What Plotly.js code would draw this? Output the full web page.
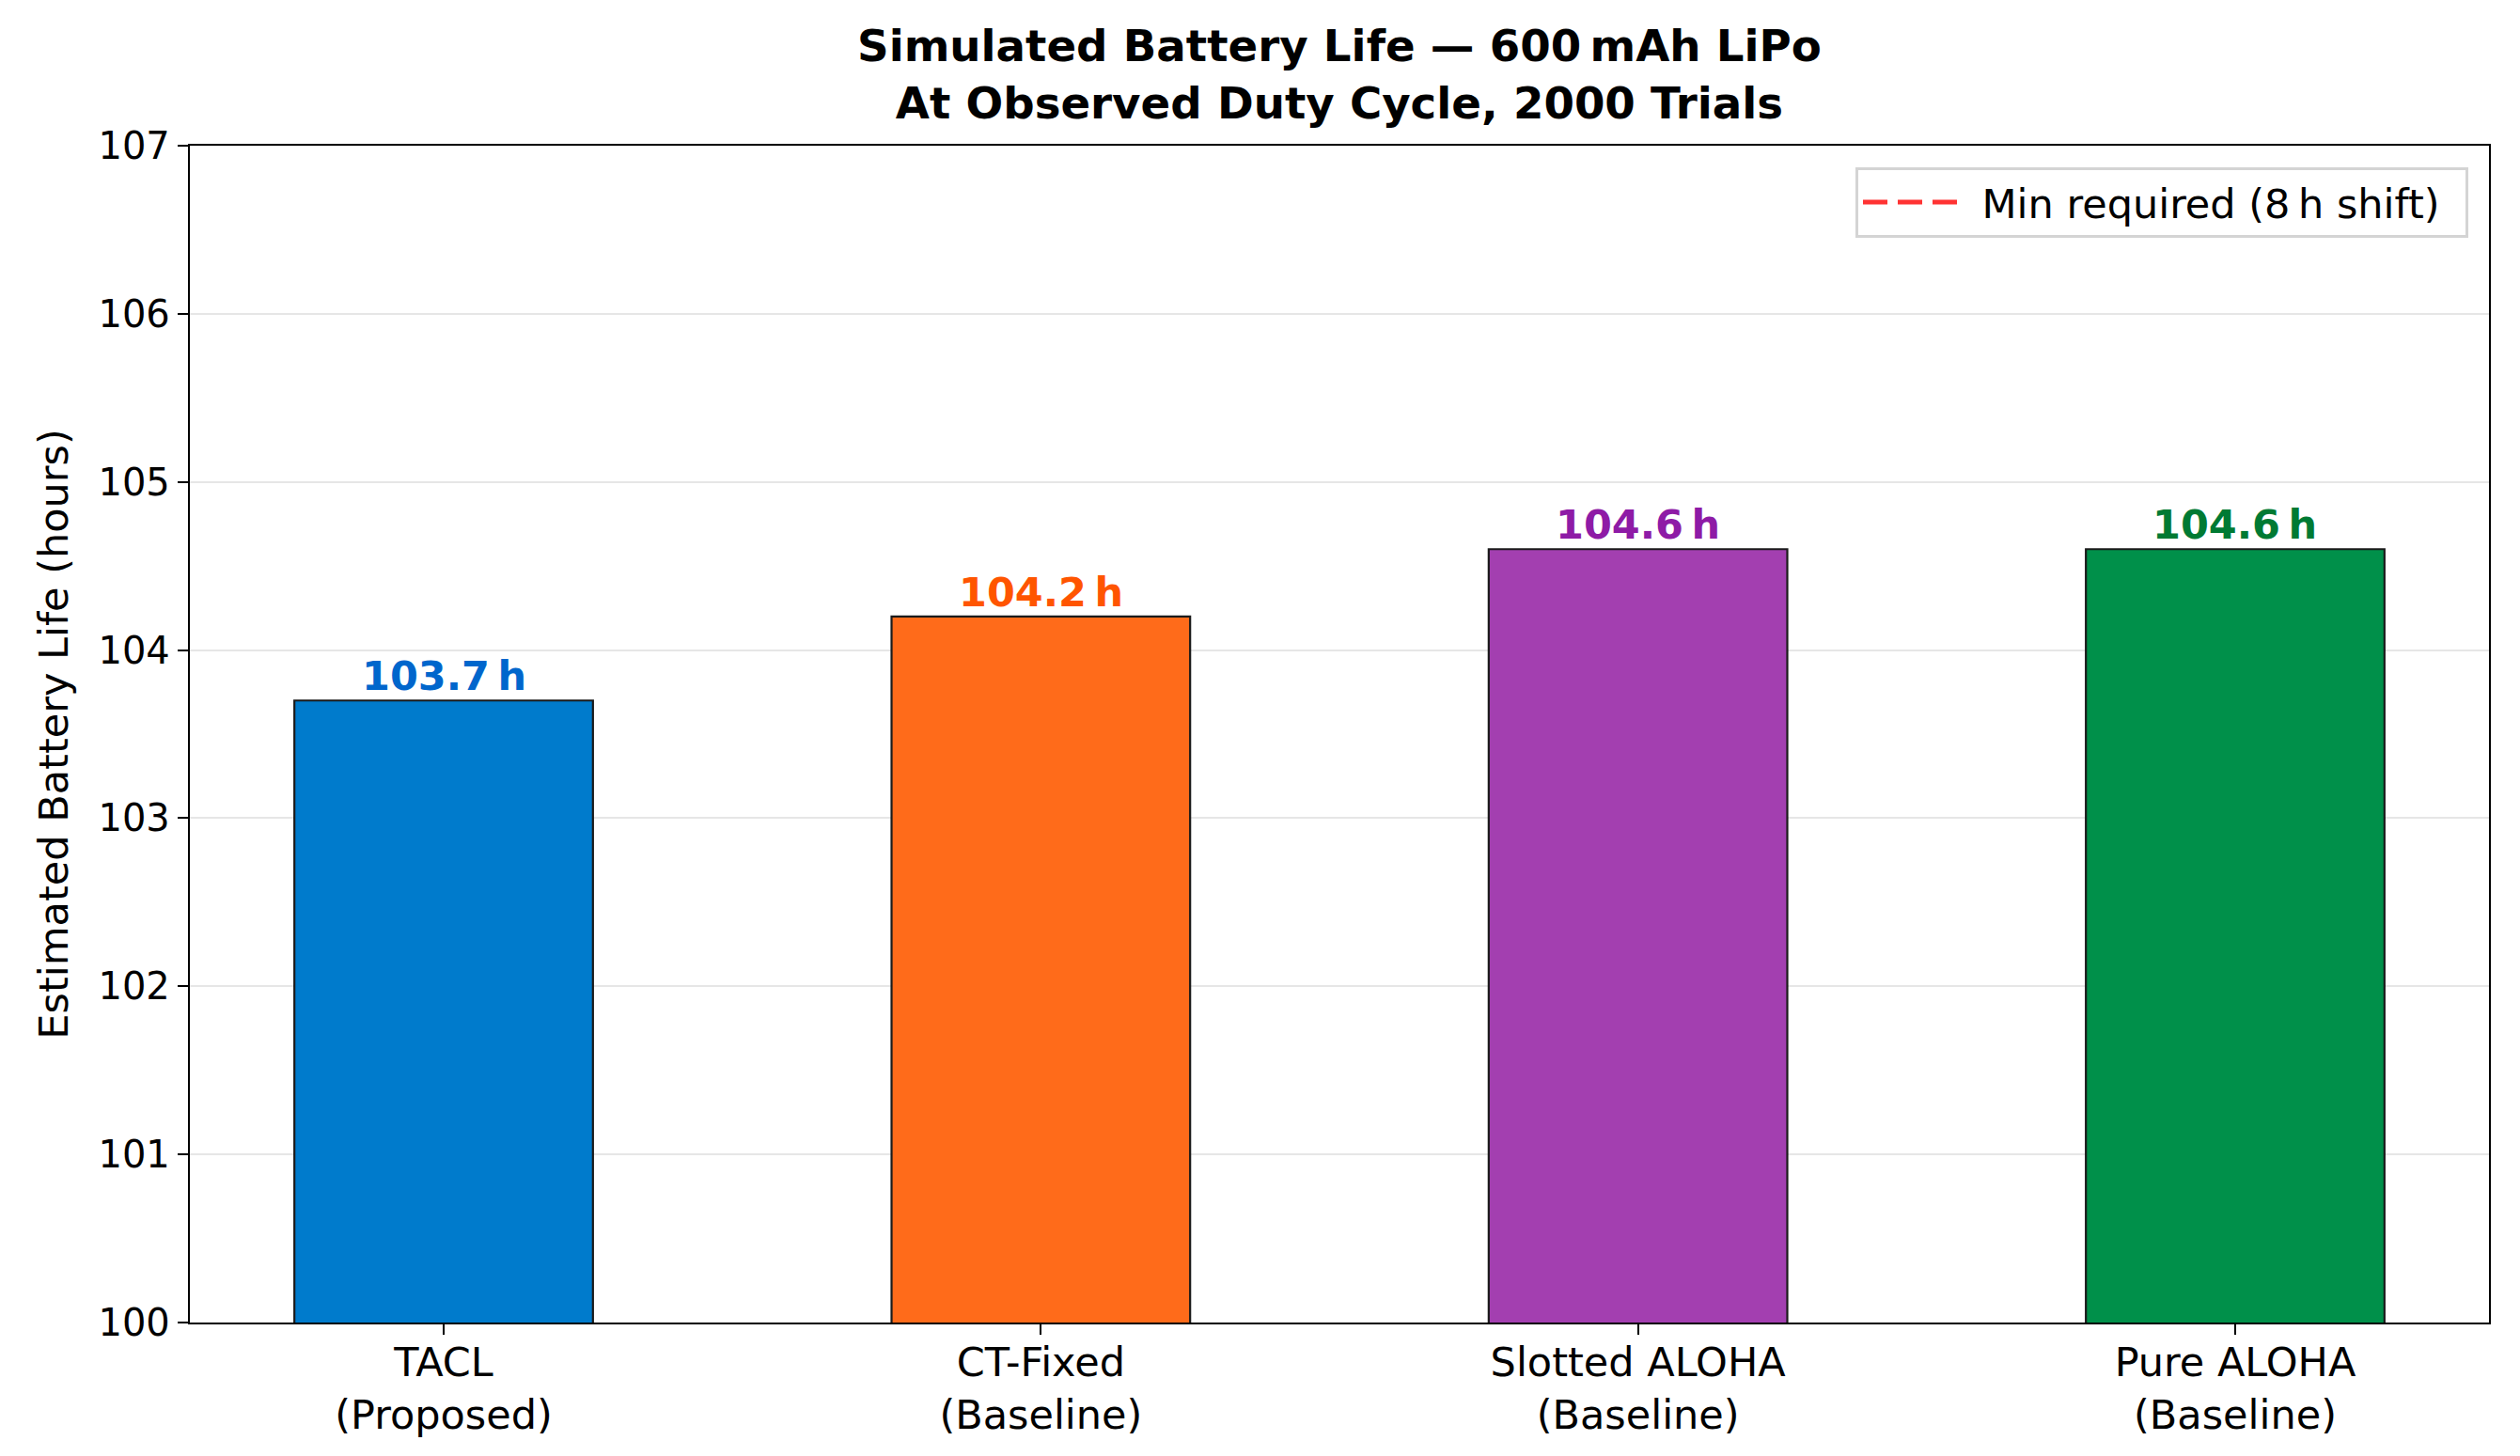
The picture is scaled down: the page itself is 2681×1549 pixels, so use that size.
<!DOCTYPE html>
<html>
<head>
<meta charset="utf-8">
<script src="https://cdn.plot.ly/plotly-3.0.1.min.js"></script>
<style>
  html, body { margin: 0; padding: 0; background: #fff; }
  #chart { width: 2681px; height: 1549px; }
</style>
</head>
<body>
<div id="chart"></div>
<script>
// -----------------------
// Datos
// -----------------------
const PROTOCOLS = ["TACL", "CT-Fixed", "Slotted ALOHA", "Pure ALOHA"];
const ROLES = ["(Proposed)", "(Baseline)", "(Baseline)", "(Baseline)"];
const BATTERY_HOURS = [103.7, 104.2, 104.6, 104.6];
const MIN_REQUIRED = 8;  // h, turno de 8 h (queda fuera del rango visible)
const BAR_COLORS = ["#007BCC", "#FF6B1A", "#A33FB0", "#00904A"];
const LABEL_COLORS = ["#0066CC", "#FF5500", "#8E1BA6", "#007A33"];
const Y_TICKS = [100, 101, 102, 103, 104, 105, 106, 107];

const FONT = "DejaVu Sans, Liberation Sans, sans-serif";
const TS = "\u2009";  // espacio fino

// -----------------------
// Trazas
// -----------------------
const bars = {
  type: "bar",
  x: PROTOCOLS,
  y: BATTERY_HOURS,
  marker: {
    color: BAR_COLORS,
    line: { color: "#1a1a1a", width: 2.2 }
  },
  showlegend: false,
  hoverinfo: "x+y"
};

const minLine = {
  type: "scatter",
  mode: "lines",
  x: PROTOCOLS,
  y: PROTOCOLS.map(() => MIN_REQUIRED),
  name: "\u2002Min required (8" + TS + "h shift)\u2002",
  line: { color: "#FF3333", width: 5, dash: "26px,11px" }
};

const labels = PROTOCOLS.map((p, i) => ({
  x: p,
  y: BATTERY_HOURS[i],
  xref: "x",
  yref: "y",
  yanchor: "bottom",
  yshift: -1,
  showarrow: false,
  text: "<b>" + BATTERY_HOURS[i].toFixed(1) + TS + "h</b>",
  font: { family: FONT, size: 43, color: LABEL_COLORS[i] }
}));

// -----------------------
// Layout
// -----------------------
const layout = {
  width: 2681,
  height: 1549,
  margin: { l: 202, r: 33, t: 155, b: 142 },
  paper_bgcolor: "#ffffff",
  plot_bgcolor: "#ffffff",
  font: { family: FONT, size: 40, color: "#000" },
  title: {
    text: "<b>Simulated Battery Life \u2014 600" + TS + "mAh LiPo<br>At Observed Duty Cycle, 2000 Trials</b>",
    font: { family: FONT, size: 46.7, color: "#000" },
    x: 0.5,
    xref: "paper",
    xanchor: "center",
    y: 1,
    yref: "paper",
    yanchor: "bottom",
    pad: { b: 90 }
  },
  bargap: 0.5,
  xaxis: {
    type: "category",
    range: [-0.425, 3.425],
    tickvals: PROTOCOLS,
    ticktext: PROTOCOLS.map((p, i) => p + "<br>" + ROLES[i]),
    tickfont: { family: FONT, size: 43, color: "#000" },
    ticks: "outside",
    ticklen: 11,
    tickwidth: 2,
    tickcolor: "#000",
    ticklabelstandoff: -8,
    showline: true,
    linecolor: "#000",
    linewidth: 2.2,
    mirror: true,
    showgrid: false,
    zeroline: false,
    automargin: false
  },
  yaxis: {
    range: [100, 107],
    tickvals: Y_TICKS,
    tickfont: { family: FONT, size: 40, color: "#000" },
    ticks: "outside",
    ticklen: 11,
    tickwidth: 2,
    tickcolor: "#000",
    showline: true,
    linecolor: "#000",
    linewidth: 2.2,
    mirror: true,
    showgrid: true,
    gridcolor: "#e6e6e6",
    gridwidth: 2,
    zeroline: false,
    automargin: false,
    title: {
      text: "Estimated Battery Life (hours)",
      font: { family: FONT, size: 43, color: "#000" },
      standoff: 18
    }
  },
  legend: {
    x: 0.991,
    y: 0.982,
    xanchor: "right",
    yanchor: "top",
    bgcolor: "rgba(255,255,255,0.9)",
    bordercolor: "#d4d4d4",
    borderwidth: 3,
    font: { family: FONT, size: 43, color: "#000" },
    itemwidth: 100
  },
  annotations: labels,
  showlegend: true
};

Plotly.newPlot("chart", [bars, minLine], layout, { displayModeBar: false, staticPlot: true });
</script>
</body>
</html>
